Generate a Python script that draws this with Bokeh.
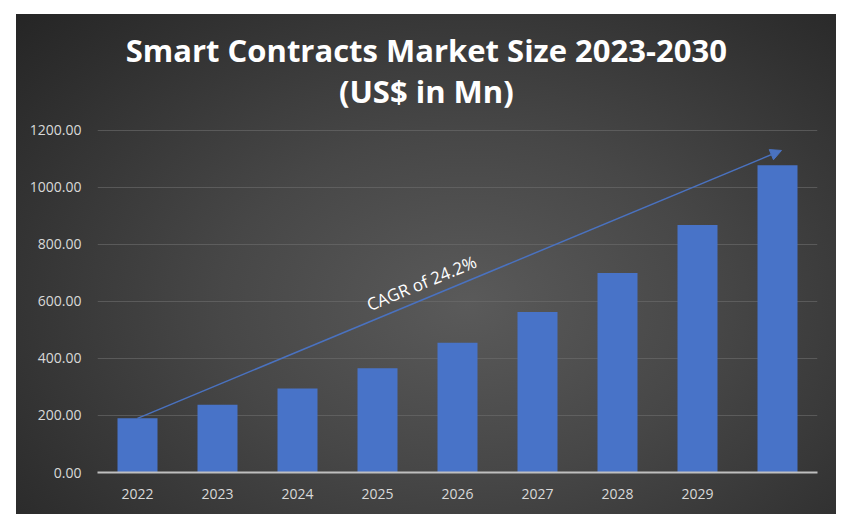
from bokeh.plotting import figure
from bokeh.models import (FactorRange, Range1d, FixedTicker, Arrow, NormalHead,
                          Label, PrintfTickFormatter, CustomJSTickFormatter)
from bokeh.embed import file_html
from bokeh.resources import INLINE

years = ["2022", "2023", "2024", "2025", "2026", "2027", "2028", "2029", "2030"]
x_labels = ["2022", "2023", "2024", "2025", "2026", "2027", "2028", "2029", ""]
market_size = [190, 238, 295, 366, 455, 563, 700, 868, 1078]
y_ticks = [0, 200, 400, 600, 800, 1000, 1200]
title_line1 = "Smart Contracts Market Size 2023-2030"
title_line2 = "(US$ in Mn)"
cagr_text = "CAGR of 24.2%"
arrow_end_value = 1130

FONT = "Open Sans"
Y_TOP = 1607  # room above the 1200 gridline for the heading

p = figure(title=None, x_range=FactorRange(*years, range_padding=0), y_range=Range1d(0, Y_TOP),
           width=840, height=518, output_backend="svg", toolbar_location=None,
           min_border_left=97, min_border_right=23, min_border_top=14, min_border_bottom=46)
p.styles = {
    "background-color": "#ffffff",
    "background-image": "radial-gradient(ellipse 75% 85% at 55% 58%, #5a5a5a 0%, #474747 40%, #303030 80%, #252525 100%)",
    "background-repeat": "no-repeat",
    "background-position": "16px 14px",
    "background-size": "820px 500px",
}
p.border_fill_color = None
p.background_fill_color = None
p.outline_line_color = None

# two-line centred heading
for txt, yv in ((title_line1, 1482), (title_line2, 1340)):
    p.add_layout(Label(x=4.11, y=yv, text=txt, text_align="center", text_baseline="alphabetic",
                       text_font=FONT, text_font_style="bold", text_font_size="31px",
                       text_color="#ffffff"))

p.vbar(x=years, top=market_size, width=0.5, fill_color="#4873c8", line_color=None)

p.xgrid.grid_line_color = None
p.ygrid.grid_line_color = "#6e6e6e"
p.ygrid.grid_line_alpha = 0.6
p.ygrid.ticker = FixedTicker(ticks=y_ticks)

p.yaxis.ticker = FixedTicker(ticks=y_ticks)
p.yaxis.formatter = PrintfTickFormatter(format="%.2f")
p.yaxis.axis_line_color = None
p.yaxis.major_tick_line_color = None
p.yaxis.minor_tick_line_color = None
p.yaxis.major_label_text_color = "#d9d9d9"
p.yaxis.major_label_text_font = FONT
p.yaxis.major_label_text_font_size = "14px"
p.yaxis.major_label_standoff = 10

p.xaxis.formatter = CustomJSTickFormatter(
    args=dict(years=years, labels=x_labels),
    code="const i = years.indexOf(tick); return i < 0 ? tick : labels[i];")
p.xaxis.axis_line_color = "#bfbfbf"
p.xaxis.axis_line_width = 2
p.xaxis.major_tick_line_color = None
p.xaxis.minor_tick_line_color = None
p.xaxis.major_label_text_color = "#d9d9d9"
p.xaxis.major_label_text_font = FONT
p.xaxis.major_label_text_font_size = "14px"
p.xaxis.major_label_standoff = 10

p.add_layout(Arrow(x_start=0.5, y_start=market_size[0], x_end=8.55, y_end=arrow_end_value,
                   line_color="#4a72c0", line_width=1.5,
                   end=NormalHead(size=11, fill_color="#4a72c0", line_color="#4a72c0")))

p.add_layout(Label(x=4.05, y=665, text=cagr_text, angle=22.4, angle_units="deg",
                   text_align="center", text_baseline="middle", text_color="#ffffff",
                   text_font=FONT, text_font_size="17px"))

open("out.html", "w").write(file_html(p, INLINE))
